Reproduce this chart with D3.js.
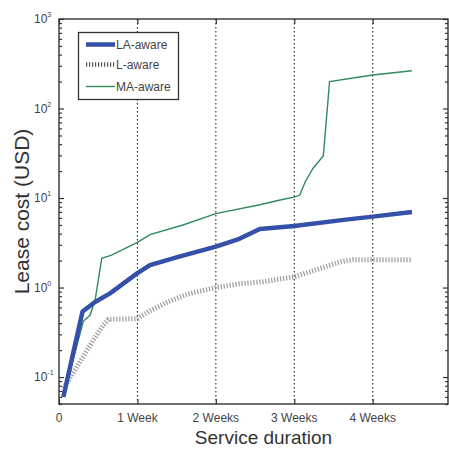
<!DOCTYPE html>
<html>
<head>
<meta charset="utf-8">
<script src="https://cdn.jsdelivr.net/npm/d3@7"></script>
<style>
  body { margin: 0; background: #fff; }
  svg { display: block; font-family: "Liberation Sans", Arial, Helvetica, sans-serif; }
</style>
</head>
<body>
<svg id="chart" width="449" height="450"></svg>
<script>
// ---- data (x in weeks, y in USD) ----
const xTickValues = [0, 1, 2, 3, 4];
const xTickLabels = ["0", "1 Week", "2 Weeks", "3 Weeks", "4 Weeks"];
const yTickExponents = [-1, 0, 1, 2, 3];

const laWeeks = [0.055, 0.3, 0.46, 0.65, 1.0, 1.16, 1.52, 2.0, 2.3, 2.56, 3.0, 3.63, 4.0, 4.5];
const laCost  = [0.06, 0.54, 0.69, 0.86, 1.45, 1.78, 2.2, 2.86, 3.5, 4.5, 4.87, 5.7, 6.2, 7.0];

const lWeeks = [0.06, 0.31, 0.44, 0.565, 0.63, 1.0, 1.16, 1.4, 1.65, 2.0, 2.3, 2.6, 3.0, 3.3, 3.6, 3.75, 4.5];
const lCost  = [0.075, 0.17, 0.26, 0.38, 0.44, 0.45, 0.55, 0.7, 0.85, 1.0, 1.1, 1.16, 1.32, 1.6, 1.95, 2.05, 2.05];

const maWeeks = [0.055, 0.31, 0.395, 0.46, 0.545, 0.67, 1.0, 1.16, 1.58, 2.0, 2.56, 2.82, 3.01, 3.07, 3.14, 3.24, 3.37, 3.45, 4.0, 4.5];
const maCost  = [0.06, 0.42, 0.49, 0.72, 2.12, 2.3, 3.2, 3.9, 5.0, 6.7, 8.4, 9.5, 10.3, 10.8, 15.2, 21.5, 29.5, 200, 237, 264];

const seriesNames = ["LA-aware", "L-aware", "MA-aware"];

// ---- layout ----
const svg = d3.select("#chart");
const pL = 59, pR = 448, pT = 19, pB = 404;

const x = d3.scaleLinear().domain([0, 4.96]).range([pL, pR]);
const y = d3.scaleLog().domain([0.05, 1000]).range([pB, pT]);

// vertical dotted grid lines
svg.append("g").selectAll("line")
  .data(xTickValues.filter(d => d > 0))
  .join("line")
  .attr("x1", d => x(d)).attr("x2", d => x(d))
  .attr("y1", pT).attr("y2", pB)
  .attr("stroke", "#222").attr("stroke-width", 1.1)
  .attr("stroke-dasharray", "1.5,2.5");

// lines
const line = d3.line().x(d => x(d[0])).y(d => y(d[1]));
const zip = (a, b) => a.map((v, i) => [v, b[i]]);

svg.append("path").datum(zip(lWeeks, lCost))
  .attr("d", line).attr("fill", "none")
  .attr("stroke", "#9a9a9a").attr("stroke-width", 5)
  .attr("stroke-dasharray", "1.2,1.8");

svg.append("path").datum(zip(maWeeks, maCost))
  .attr("d", line).attr("fill", "none")
  .attr("stroke", "#2f8a5c").attr("stroke-width", 1.4);

svg.append("path").datum(zip(laWeeks, laCost))
  .attr("d", line).attr("fill", "none")
  .attr("stroke", "#3450a8").attr("stroke-width", 4.5)
  .attr("stroke-linejoin", "round");

// frame
svg.append("rect")
  .attr("x", pL).attr("y", pT)
  .attr("width", pR - pL).attr("height", pB - pT)
  .attr("fill", "none").attr("stroke", "#333").attr("stroke-width", 1.4);

// axes (ticks inward)
const minorTicks = y.ticks().filter(v => Math.abs(Math.log10(v) - Math.round(Math.log10(v))) > 1e-6);
const majorTicks = yTickExponents.map(e => Math.pow(10, e));

const yLeft = d3.axisRight(y).tickValues(majorTicks).tickSize(5).tickFormat("");
const yLeftMinor = d3.axisRight(y).tickValues(minorTicks).tickSize(3).tickFormat("");
const yRight = d3.axisLeft(y).tickValues(majorTicks).tickSize(5).tickFormat("");
const yRightMinor = d3.axisLeft(y).tickValues(minorTicks).tickSize(3).tickFormat("");
const xBottom = d3.axisTop(x).tickValues(xTickValues).tickSize(5).tickFormat("");
const xTop = d3.axisBottom(x).tickValues(xTickValues).tickSize(5).tickFormat("");

function styleAxis(g) {
  g.select(".domain").remove();
  g.selectAll(".tick line").attr("stroke", "#333").attr("stroke-width", 1.2);
}
svg.append("g").attr("transform", `translate(${pL},0)`).call(yLeft).call(styleAxis);
svg.append("g").attr("transform", `translate(${pL},0)`).call(yLeftMinor).call(styleAxis);
svg.append("g").attr("transform", `translate(${pR},0)`).call(yRight).call(styleAxis);
svg.append("g").attr("transform", `translate(${pR},0)`).call(yRightMinor).call(styleAxis);
svg.append("g").attr("transform", `translate(0,${pB})`).call(xBottom).call(styleAxis);
svg.append("g").attr("transform", `translate(0,${pT})`).call(xTop).call(styleAxis);

// y tick labels: 10^e
const yl = svg.append("g").selectAll("text")
  .data(yTickExponents).join("text")
  .attr("x", 34).attr("y", e => y(Math.pow(10, e)) + 4)
  .attr("font-size", 12).attr("fill", "#444");
yl.append("tspan").text("10");
yl.append("tspan").attr("dy", -6).attr("font-size", 7).text(e => e);

// x tick labels
svg.append("g").selectAll("text")
  .data(xTickValues).join("text")
  .attr("x", d => x(d)).attr("y", 422)
  .attr("text-anchor", "middle").attr("font-size", 12).attr("fill", "#444")
  .text((d, i) => xTickLabels[i]);

// axis titles
svg.append("text")
  .attr("x", (pL + pR) / 2 + 10).attr("y", 444)
  .attr("text-anchor", "middle").attr("font-size", 19).attr("fill", "#333")
  .text("Service duration");

svg.append("text")
  .attr("transform", `translate(29,${(pT + pB) / 2}) rotate(-90)`)
  .attr("text-anchor", "middle").attr("font-size", 21).attr("fill", "#333")
  .text("Lease cost (USD)");

// legend
const lg = svg.append("g");
lg.append("rect").attr("x", 78.5).attr("y", 32.5).attr("width", 100).attr("height", 67)
  .attr("fill", "#fff").attr("stroke", "#333").attr("stroke-width", 1.3);
const legendStyles = [
  { stroke: "#3450a8", width: 4.5, dash: null },
  { stroke: "#555", width: 4.5, dash: "1.2,1.8" },
  { stroke: "#2f8a5c", width: 1.4, dash: null }
];
const legendY = [44.5, 64.5, 86.5];
seriesNames.forEach((name, i) => {
  lg.append("line").attr("x1", 86).attr("x2", 115)
    .attr("y1", legendY[i]).attr("y2", legendY[i])
    .attr("stroke", legendStyles[i].stroke).attr("stroke-width", legendStyles[i].width)
    .attr("stroke-dasharray", legendStyles[i].dash);
  lg.append("text").attr("x", 116).attr("y", legendY[i] + 4.5)
    .attr("font-size", 12).attr("fill", "#444").text(name);
});
</script>
</body>
</html>
